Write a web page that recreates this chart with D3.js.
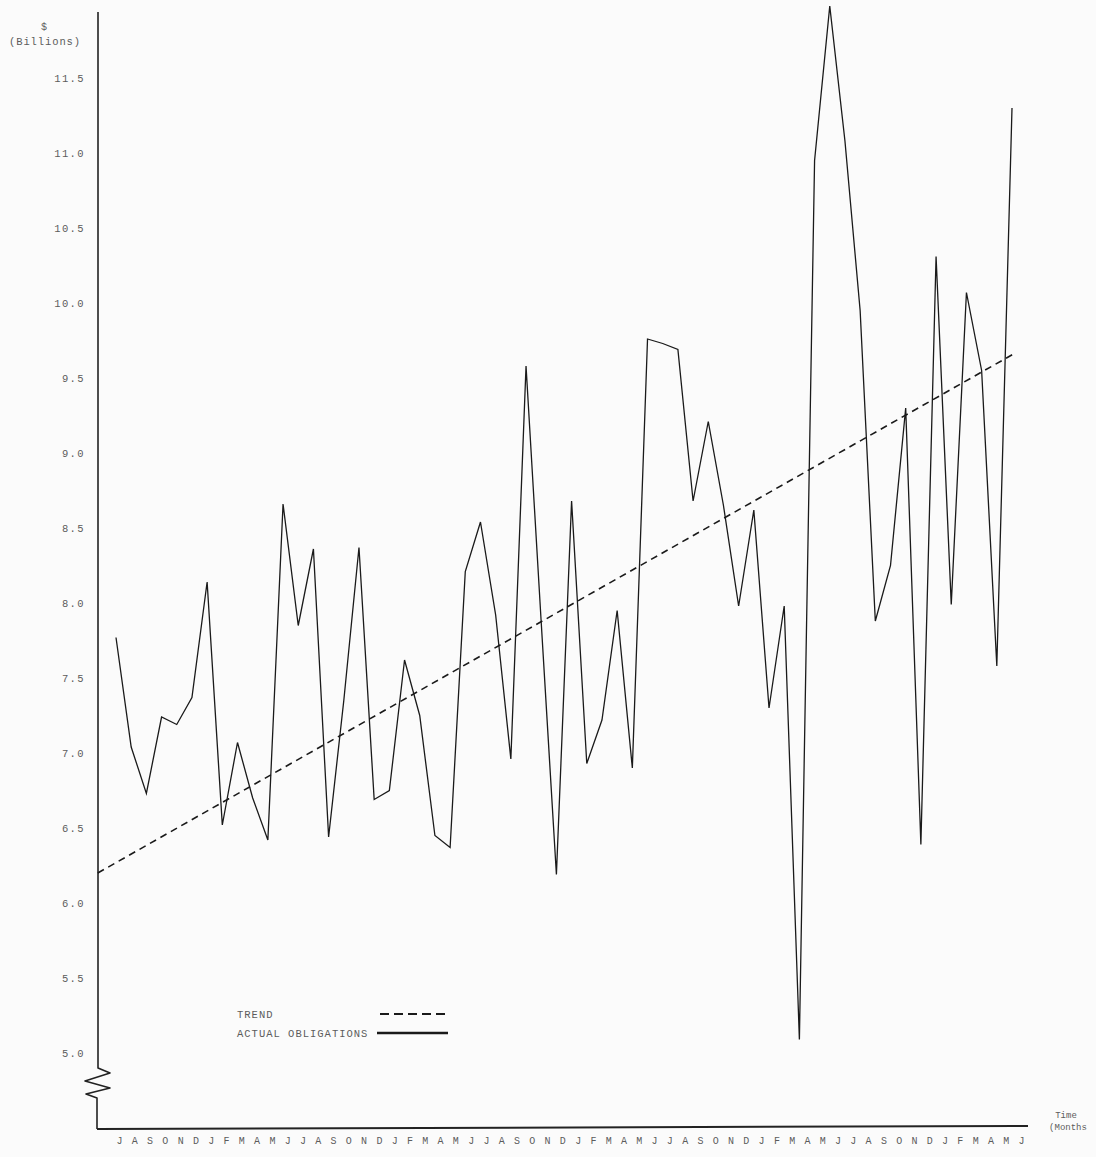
<!DOCTYPE html>
<html>
<head>
<meta charset="utf-8">
<title>Actual Obligations and Trend</title>
<script src="https://cdn.jsdelivr.net/npm/d3@7"></script>
<style>
  html, body { margin: 0; padding: 0; background: #fbfbfb; }
  svg { display: block; }
  text { font-family: 'Liberation Mono', 'DejaVu Sans Mono', monospace; fill: #5c5c5c; }
</style>
</head>
<body>
<div id="chart"></div>
<script>
// Month labels, July through June, five years
const months = [
  'J','A','S','O','N','D','J','F','M','A','M','J',
  'J','A','S','O','N','D','J','F','M','A','M','J',
  'J','A','S','O','N','D','J','F','M','A','M','J',
  'J','A','S','O','N','D','J','F','M','A','M','J',
  'J','A','S','O','N','D','J','F','M','A','M','J'
];

// Actual obligations, $ billions
const obligations = [
  7.77, 7.04, 6.73, 7.24, 7.19, 7.37, 8.14, 6.52, 7.07, 6.70, 6.42, 8.66,
  7.85, 8.36, 6.44, 7.35, 8.37, 6.69, 6.75, 7.62, 7.25, 6.45, 6.37, 8.21,
  8.54, 7.92, 6.96, 9.58, 7.87, 6.19, 8.68, 6.93, 7.22, 7.95, 6.90, 9.76,
  9.73, 9.69, 8.68, 9.21, 8.65, 7.98, 8.62, 7.30, 7.98, 5.09, 10.95, 11.98,
  11.08, 9.95, 7.88, 8.25, 9.30, 6.39, 10.31, 7.99, 10.07, 9.55, 7.58, 11.30
];

// Trend line end points (month index, value)
const trendIndex = [-1.2, 59.1];
const trendValues = [6.2, 9.66];

const yTicks = [5.0, 5.5, 6.0, 6.5, 7.0, 7.5, 8.0, 8.5, 9.0, 9.5, 10.0, 10.5, 11.0, 11.5];

const width = 1096, height = 1157;
const axisX = 98, axisBottom = 1128;

const svg = d3.select('#chart')
  .append('svg')
  .attr('width', width)
  .attr('height', height);

// Scales
const x = d3.scaleLinear().domain([0, 59]).range([116, 1012]);
const xLabel = d3.scaleLinear().domain([0, 59]).range([119, 1021]);
const y = d3.scaleLinear().domain([5.0, 11.5]).range([1053, 78]);

// Y axis line with the break zigzag near the bottom
svg.append('path')
  .attr('d', `M${axisX},12 L${axisX},1068 L110,1073 L85,1081 L110,1088 L86,1094 L${axisX - 1},1098 L${axisX - 1},${axisBottom + 1}`)
  .attr('fill', 'none')
  .attr('stroke', '#222')
  .attr('stroke-width', 1.6)
  .attr('stroke-linejoin', 'round');

// X axis line
svg.append('line')
  .attr('x1', axisX - 1).attr('y1', axisBottom + 1)
  .attr('x2', 1028).attr('y2', axisBottom - 2)
  .attr('stroke', '#222')
  .attr('stroke-width', 2);

// Y tick labels
const yAxis = d3.axisLeft(y)
  .tickValues(yTicks)
  .tickFormat(d3.format('.1f'))
  .tickSize(0)
  .tickPadding(13);

svg.append('g')
  .attr('class', 'y-axis')
  .attr('transform', `translate(${axisX}, 0)`)
  .call(yAxis)
  .call(g => g.select('.domain').remove())
  .selectAll('text')
  .style('font-size', '10.5px')
  .style('letter-spacing', '1.4px')
  .style('font-family', "'Liberation Mono', 'DejaVu Sans Mono', monospace")
  .attr('fill', '#5c5c5c');

// Units label
svg.append('text')
  .attr('x', 44).attr('y', 30)
  .attr('text-anchor', 'middle')
  .style('font-size', '10px')
  .text('$');

svg.append('text')
  .attr('x', 45).attr('y', 45)
  .attr('text-anchor', 'middle')
  .style('font-size', '10.5px')
  .style('letter-spacing', '0.9px')
  .text('(Billions)');

// Month labels
const xAxis = d3.axisBottom(xLabel)
  .tickValues(d3.range(months.length))
  .tickFormat(i => months[i])
  .tickSize(0)
  .tickPadding(9);

svg.append('g')
  .attr('class', 'x-axis')
  .attr('transform', `translate(0, ${axisBottom})`)
  .call(xAxis)
  .call(g => g.select('.domain').remove())
  .selectAll('text')
  .style('font-size', '10px')
  .style('font-family', "'Liberation Mono', 'DejaVu Sans Mono', monospace")
  .attr('fill', '#5c5c5c');

// Time (Months) label
svg.append('text')
  .attr('x', 1066).attr('y', 1118)
  .attr('text-anchor', 'middle')
  .style('font-size', '9px')
  .text('Time');

svg.append('text')
  .attr('x', 1068).attr('y', 1130)
  .attr('text-anchor', 'middle')
  .style('font-size', '9px')
  .text('(Months');

// Trend line
const trendData = trendIndex.map((d, i) => ({ i: d, v: trendValues[i] }));

svg.append('path')
  .datum(trendData)
  .attr('fill', 'none')
  .attr('stroke', '#1a1a1a')
  .attr('stroke-width', 1.6)
  .attr('stroke-dasharray', '7,5')
  .attr('d', d3.line().x(d => x(d.i)).y(d => y(d.v)));

// Actual obligations line
svg.append('path')
  .datum(obligations)
  .attr('fill', 'none')
  .attr('stroke', '#1a1a1a')
  .attr('stroke-width', 1.3)
  .attr('stroke-linejoin', 'miter')
  .attr('d', d3.line().x((d, i) => x(i)).y(d => y(d)));

// Legend
const legend = svg.append('g').attr('class', 'legend');

legend.append('text')
  .attr('x', 237).attr('y', 1018)
  .style('font-size', '10.5px')
  .style('letter-spacing', '1px')
  .text('TREND');

legend.append('line')
  .attr('x1', 380).attr('y1', 1014)
  .attr('x2', 447).attr('y2', 1014)
  .attr('stroke', '#1a1a1a')
  .attr('stroke-width', 2)
  .attr('stroke-dasharray', '9,5');

legend.append('text')
  .attr('x', 237).attr('y', 1037)
  .style('font-size', '10.5px')
  .style('letter-spacing', '1px')
  .text('ACTUAL OBLIGATIONS');

legend.append('line')
  .attr('x1', 377).attr('y1', 1033)
  .attr('x2', 448).attr('y2', 1033)
  .attr('stroke', '#1a1a1a')
  .attr('stroke-width', 2.5);
</script>
</body>
</html>
